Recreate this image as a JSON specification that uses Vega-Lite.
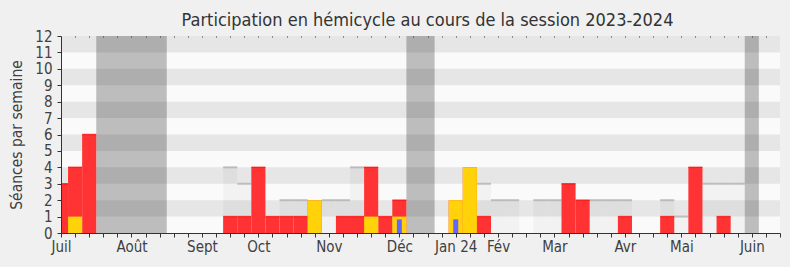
{
  "$schema": "https://vega.github.io/schema/vega-lite/v6.json",
  "width": 719,
  "height": 197,
  "autosize": "none",
  "padding": {"left": 61, "top": 36, "right": 10, "bottom": 34},
  "background": "#f0f0f0",
  "title": {"text": "Participation en hémicycle au cours de la session 2023-2024", "fontSize": 18, "font": "DejaVu Sans Condensed", "fontWeight": "normal", "color": "#333333", "dx": 7, "offset": 8, "dy": 9},
  "config": {
    "view": {"fill": "#fafafa", "stroke": null},
    "axis": {"labelFont": "DejaVu Sans Condensed", "titleFont": "DejaVu Sans Condensed", "labelColor": "#404040", "titleColor": "#404040", "domainColor": "#333333", "tickColor": "#333333", "grid": false, "titleFontWeight": "normal"}
  },
  "resolve": {"axis": {"x": "independent", "y": "independent"}},
  "datasets": {
    "stripes": [{"y0": 1, "y1": 2}, {"y0": 3, "y1": 4}, {"y0": 5, "y1": 6}, {"y0": 7, "y1": 8}, {"y0": 9, "y1": 10}, {"y0": 11, "y1": 12}],
    "vacances": [{"start": 2.5, "end": 7.5}, {"start": 24.5, "end": 26.5}, {"start": 48.5, "end": 49.5}],
    "semaines": [
      {"week": 0, "presence": 3},
      {"week": 1, "presence": 4, "participation": 1},
      {"week": 2, "presence": 6},
      {"week": 12, "presence": 1, "median": 4},
      {"week": 13, "presence": 1, "median": 3},
      {"week": 14, "presence": 4},
      {"week": 15, "presence": 1},
      {"week": 16, "presence": 1, "median": 2},
      {"week": 17, "presence": 1, "median": 2},
      {"week": 18, "presence": 2, "participation": 2},
      {"week": 19, "median": 2},
      {"week": 20, "presence": 1, "median": 2},
      {"week": 21, "presence": 1, "median": 4},
      {"week": 22, "presence": 4, "participation": 1},
      {"week": 23, "presence": 1},
      {"week": 24, "presence": 2, "participation": 1, "questions": 0.83},
      {"week": 28, "presence": 2, "participation": 2, "questions": 0.83},
      {"week": 29, "presence": 4, "participation": 4},
      {"week": 30, "presence": 1, "median": 3},
      {"week": 31, "median": 2},
      {"week": 32, "median": 2},
      {"week": 34, "median": 2},
      {"week": 35, "median": 2},
      {"week": 36, "presence": 3},
      {"week": 37, "presence": 2},
      {"week": 38, "median": 2},
      {"week": 39, "median": 2},
      {"week": 40, "presence": 1, "median": 2},
      {"week": 43, "presence": 1, "median": 2},
      {"week": 44, "median": 1},
      {"week": 45, "presence": 4},
      {"week": 46, "median": 3},
      {"week": 47, "presence": 1, "median": 3},
      {"week": 48, "median": 3}
    ]
  },
  "layer": [
    {
      "data": {"name": "stripes"},
      "mark": {"type": "rect", "color": "#e6e6e6"},
      "encoding": {
        "y": {"field": "y0", "type": "quantitative", "scale": {"domain": [0, 12], "nice": false, "zero": true},
          "axis": {"values": [0,1,2,3,4,5,6,7,8,9,10,11,12], "title": "Séances par semaine", "titleFontSize": 15.5, "labelFontSize": 15, "tickSize": 4, "labelPadding": 5, "titlePadding": 10, "labelOverlap": false, "zindex": 1}},
        "y2": {"field": "y1"}
      }
    },
    {
      "data": {"name": "vacances"},
      "mark": {"type": "rect", "color": "#000000", "opacity": 0.245},
      "encoding": {
        "x": {"field": "start", "type": "quantitative", "scale": {"domain": [0, 51], "nice": false, "zero": false, "padding": 0},
          "axis": {"orient": "bottom", "values": [0,1,2,3,4,5,6,7,8,9,10,11,12,13,14,15,16,17,18,19,20,21,22,23,24,25,26,27,28,29,30,31,32,33,34,35,36,37,38,39,40,41,42,43,44,45,46,47,48,49,50,51],
            "labelExpr": "datum.value==0?'Juil':datum.value==5?'Août':datum.value==10?'Sept':datum.value==14?'Oct':datum.value==19?'Nov':datum.value==24?'Déc':datum.value==28?'Jan 24':datum.value==31?'Fév':datum.value==35?'Mar':datum.value==40?'Avr':datum.value==44?'Mai':datum.value==49?'Juin':''",
            "labelOverlap": false, "labelFlush": false, "labelFontSize": 15, "tickSize": 4, "labelPadding": 2, "title": null, "zindex": 1}},
        "x2": {"field": "end"},
        "y": {"value": 0},
        "y2": {"value": 197}
      }
    },
    {
      "data": {"name": "semaines"},
      "transform": [{"filter": "datum.median > 0"}],
      "mark": {"type": "bar", "size": 14.1, "color": "#000000", "opacity": 0.03},
      "encoding": {
        "x": {"field": "week", "type": "quantitative", "axis": {"orient": "top", "values": [1,2,3,4,5,6,7,8,9,10,11,12,13,14,15,16,17,18,19,20,21,22,23,24,25,26,27,28,29,30,31,32,33,34,35,36,37,38,39,40,41,42,43,44,45,46,47,48,49,50], "labels": false, "domain": false, "tickSize": 1, "offset": -1, "title": null, "zindex": 1}},
        "y": {"field": "median", "type": "quantitative", "axis": null}
      }
    },
    {
      "data": {"name": "semaines"},
      "transform": [{"filter": "datum.median > 0"}],
      "mark": {"type": "tick", "orient": "horizontal", "size": 14.1, "thickness": 2, "color": "#aaaaaa"},
      "encoding": {
        "x": {"field": "week", "type": "quantitative", "axis": null},
        "y": {"field": "median", "type": "quantitative", "axis": null}
      }
    },
    {
      "data": {"name": "semaines"},
      "transform": [{"filter": "datum.presence > 0"}],
      "mark": {"type": "bar", "size": 14.1, "color": "#ff3333", "clip": true},
      "encoding": {
        "x": {"field": "week", "type": "quantitative", "axis": null},
        "y": {"field": "presence", "type": "quantitative", "axis": null}
      }
    },
    {
      "data": {"name": "semaines"},
      "transform": [{"filter": "datum.presence > 0 && datum.presence > (datum.participation || 0)"}],
      "mark": {"type": "tick", "orient": "horizontal", "size": 14.1, "thickness": 1.5, "color": "#ff0000", "clip": true},
      "encoding": {
        "x": {"field": "week", "type": "quantitative", "axis": null},
        "y": {"field": "presence", "type": "quantitative", "axis": null}
      }
    },
    {
      "data": {"name": "semaines"},
      "transform": [{"filter": "datum.participation > 0"}],
      "mark": {"type": "bar", "size": 14.1, "color": "#ffd20a"},
      "encoding": {
        "x": {"field": "week", "type": "quantitative", "axis": null},
        "y": {"field": "participation", "type": "quantitative", "axis": null}
      }
    },
    {
      "data": {"name": "semaines"},
      "transform": [{"filter": "datum.questions > 0"}],
      "mark": {"type": "bar", "size": 5, "color": "#6666ff"},
      "encoding": {
        "x": {"field": "week", "type": "quantitative", "axis": null},
        "y": {"field": "questions", "type": "quantitative", "axis": null}
      }
    }
  ]
}
